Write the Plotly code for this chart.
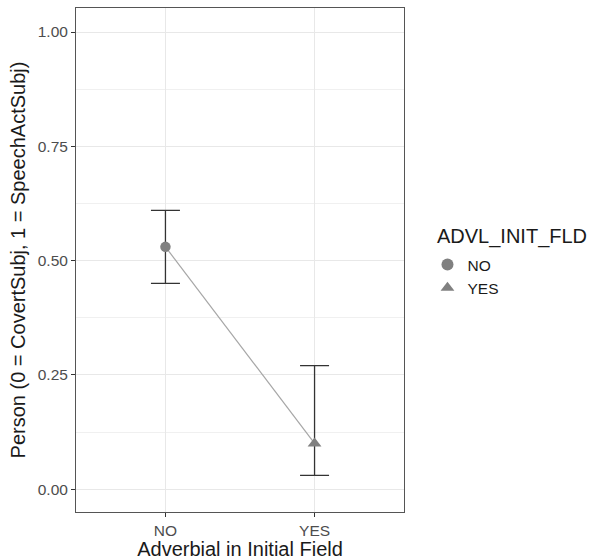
import plotly.graph_objects as go

categories = ["NO", "YES"]
means = [0.53, 0.10]
upper = [0.61, 0.27]
lower = [0.45, 0.03]
symbols = ["circle", "triangle-up"]
y_ticks = [0.0, 0.25, 0.5, 0.75, 1.0]
y_ticklabels = ["0.00", "0.25", "0.50", "0.75", "1.00"]
legend_title = "ADVL_INIT_FLD"

xpos = [i + 1 for i in range(len(categories))]

fig = go.Figure()
# connecting line
fig.add_trace(go.Scatter(x=xpos, y=means, mode="lines",
                         line=dict(color="#a6a6a6", width=1.2),
                         showlegend=False, hoverinfo="skip"))
for i, cat in enumerate(categories):
    fig.add_trace(go.Scatter(
        x=[xpos[i]], y=[means[i]], mode="markers", name=cat,
        marker=dict(symbol=symbols[i], size=10.5 if i == 0 else 12, color="#808080"),
        error_y=dict(type="data", symmetric=False,
                     array=[upper[i] - means[i]],
                     arrayminus=[means[i] - lower[i]],
                     color="#333333", thickness=1.3, width=14.5),
    ))

font_family = "Liberation Sans, Arial, sans-serif"
fig.update_layout(
    width=591, height=560,
    margin=dict(l=76, r=187, t=8, b=48, autoexpand=False),
    plot_bgcolor="white", paper_bgcolor="white",
    font=dict(family=font_family, color="#1a1a1a"),
    legend=dict(
        x=1.0716, xanchor="left", y=0.524, yanchor="top",
        font=dict(size=15.5, color="#1a1a1a"),
        tracegroupgap=0, itemsizing="constant",
    ),
    annotations=[dict(
        text=legend_title, xref="paper", yref="paper",
        x=(435 - 76) / 328, y=(511.7 - 236.7) / 503.4,
        xanchor="left", yanchor="middle", showarrow=False,
        font=dict(size=20, color="#1a1a1a"),
    )],
    xaxis=dict(
        range=[0.4, 2.6], tickmode="array", tickvals=xpos, ticktext=categories,
        showgrid=True, gridcolor="#e8e8e8", gridwidth=1.2,
        ticks="outside", ticklen=4, tickcolor="#333333",
        tickfont=dict(size=15.5, color="#4d4d4d"),
        title=dict(text="Adverbial in Initial Field", font=dict(size=20, color="#1a1a1a"), standoff=2),
        showline=True, linecolor="#555555", linewidth=1, mirror=True, zeroline=False,
        automargin=False,
    ),
    yaxis=dict(
        range=[-0.05, 1.0525], tickmode="array", tickvals=y_ticks, ticktext=y_ticklabels,
        showgrid=True, gridcolor="#e8e8e8", gridwidth=1.2,
        minor=dict(tickvals=[0.125, 0.375, 0.625, 0.875], showgrid=True, gridcolor="#f0f0f0", gridwidth=0.8, ticks=""),
        ticks="outside", ticklen=4, tickcolor="#333333",
        tickfont=dict(size=15.5, color="#4d4d4d"),
        title=dict(text="Person (0 = CovertSubj, 1 = SpeechActSubj)", font=dict(size=20, color="#1a1a1a"), standoff=6),
        showline=True, linecolor="#555555", linewidth=1, mirror=True, zeroline=False,
        automargin=False,
    ),
)

fig.write_html("out.html")
